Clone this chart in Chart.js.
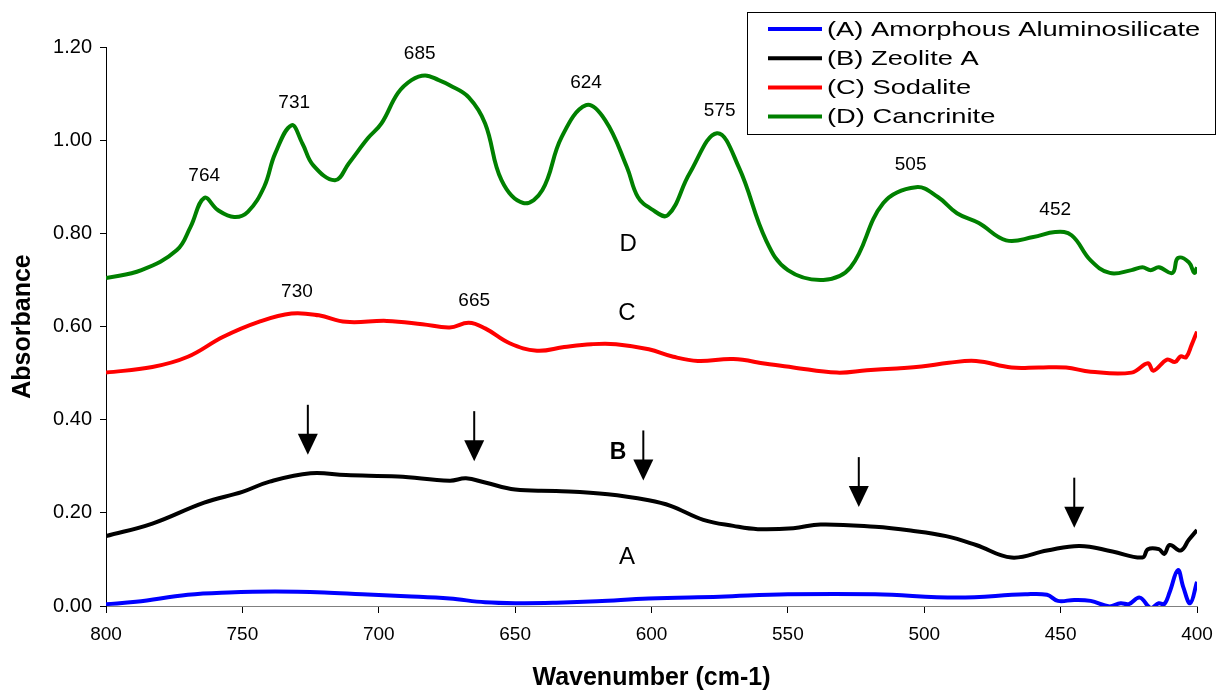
<!DOCTYPE html>
<html>
<head>
<meta charset="utf-8">
<title>FTIR spectra</title>
<script src="https://cdn.jsdelivr.net/npm/chart.js@4.4.1/dist/chart.umd.min.js"></script>
<style>
  body { margin: 0; background: #fff; }
  #wrap { width: 1217px; height: 692px; }
</style>
</head>
<body>
<div id="wrap"><canvas id="irChart" width="1217" height="692"></canvas></div>
<script>
// wavenumber (cm-1) / absorbance pairs for each sample
const waveA = [800, 789, 770, 755, 738, 720, 706, 690, 674, 661, 648, 635, 620, 601, 575, 550, 518, 488, 463, 455, 451, 445, 439, 432, 428, 425, 421, 417, 414, 412, 410, 407, 405, 402.5, 400];
const absA = [0.004, 0.009, 0.024, 0.029, 0.031, 0.029, 0.025, 0.021, 0.016, 0.008, 0.006, 0.007, 0.010, 0.016, 0.020, 0.025, 0.025, 0.018, 0.025, 0.024, 0.011, 0.013, 0.011, -0.001, 0.006, 0.004, 0.018, -0.004, 0.006, 0.004, 0.030, 0.077, 0.040, 0.006, 0.052];

const waveB = [800, 783, 764, 750, 740, 725, 712, 693, 674, 668, 661, 650, 635, 616, 601, 593, 581, 570, 561, 548, 538, 518, 505, 492, 481, 468, 455, 443, 431, 420, 418, 414, 412, 410, 406, 403, 400];
const absB = [0.150, 0.177, 0.222, 0.245, 0.267, 0.285, 0.281, 0.278, 0.269, 0.274, 0.265, 0.250, 0.247, 0.240, 0.227, 0.215, 0.185, 0.172, 0.165, 0.167, 0.175, 0.170, 0.162, 0.150, 0.131, 0.104, 0.119, 0.129, 0.117, 0.104, 0.122, 0.122, 0.112, 0.131, 0.119, 0.142, 0.163];

const waveC = [800, 783, 770, 757, 744, 732, 722, 712, 697, 684, 674, 667, 661, 652, 642, 632, 622, 613, 601, 592, 583, 570, 558, 548, 532, 521, 510, 501, 491, 481, 468, 458, 448, 439, 424, 418, 416, 411, 408, 406, 404, 402, 400];
const absC = [0.501, 0.513, 0.535, 0.578, 0.610, 0.628, 0.624, 0.610, 0.612, 0.605, 0.598, 0.608, 0.596, 0.564, 0.548, 0.556, 0.562, 0.562, 0.551, 0.535, 0.526, 0.530, 0.520, 0.512, 0.501, 0.506, 0.510, 0.514, 0.522, 0.526, 0.512, 0.512, 0.512, 0.503, 0.501, 0.521, 0.505, 0.529, 0.524, 0.536, 0.534, 0.560, 0.589];

const waveD = [800, 787, 774, 769, 764, 759, 753, 748, 742, 738, 732, 728, 724, 716, 711, 704, 699, 693, 688, 683, 678, 674, 667, 661, 655, 647, 640, 633, 624, 617, 609, 605, 600, 594, 586, 576, 568, 558, 550, 537, 527, 515, 503, 495, 488, 480, 470, 460, 452, 446, 439, 432, 424, 420, 417, 414, 409, 407, 403, 401, 400];
const absD = [0.704, 0.721, 0.764, 0.814, 0.876, 0.850, 0.835, 0.846, 0.900, 0.971, 1.032, 0.993, 0.946, 0.914, 0.950, 1.004, 1.036, 1.101, 1.129, 1.139, 1.129, 1.118, 1.092, 1.036, 0.914, 0.865, 0.893, 1.006, 1.075, 1.043, 0.942, 0.878, 0.852, 0.839, 0.929, 1.015, 0.942, 0.785, 0.721, 0.700, 0.727, 0.865, 0.899, 0.878, 0.843, 0.822, 0.785, 0.792, 0.803, 0.796, 0.742, 0.715, 0.721, 0.727, 0.721, 0.727, 0.715, 0.747, 0.738, 0.715, 0.727];

const seriesNames = ["(A) Amorphous Aluminosilicate", "(B) Zeolite A", "(C) Sodalite", "(D) Cancrinite"];
const seriesColors = ["#0000ff", "#000000", "#ff0000", "#008000"];

const xTicks = [800, 750, 700, 650, 600, 550, 500, 450, 400];
const yTicks = [0, 0.2, 0.4, 0.6, 0.8, 1.0, 1.2];

// band positions marked on the spectra
const peaksD = [764, 731, 685, 624, 575, 505, 452];
const peaksC = [730, 665];
const arrowsB = [726, 665, 603, 524, 445];

const FONT = "'Liberation Sans', Arial, sans-serif";

function toPoints(waves, vals) {
  let pts = [];
  for (let i = 0; i < waves.length; i++) {
    pts.push({ x: waves[i], y: vals[i] });
  }
  return pts;
}

function valueAt(waves, vals, w) {
  for (let i = 0; i < waves.length - 1; i++) {
    if (w <= waves[i] && w >= waves[i + 1]) {
      const t = (waves[i] - w) / (waves[i] - waves[i + 1]);
      return vals[i] + t * (vals[i + 1] - vals[i]);
    }
  }
  return vals[vals.length - 1];
}

function peakAt(waves, vals, w) {
  let best = -1;
  for (let d = -4; d <= 4; d += 0.5) {
    best = Math.max(best, valueAt(waves, vals, w + d));
  }
  return best;
}

const allWaves = [waveA, waveB, waveC, waveD];
const allAbs = [absA, absB, absC, absD];

const datasets = [];
for (let i = 0; i < 4; i++) {
  datasets.push({
    label: seriesNames[i],
    data: toPoints(allWaves[i], allAbs[i]),
    borderColor: seriesColors[i],
    backgroundColor: seriesColors[i],
    borderWidth: 4,
    pointRadius: 0,
    tension: 0.4,
    fill: false,
  });
}

// peak numbers, curve letters, arrows and the boxed legend
const annotatePlugin = {
  id: "annotate",
  afterDatasetsDraw(chart) {
    const ctx = chart.ctx;
    const xs = chart.scales.x;
    const ys = chart.scales.y;
    ctx.save();
    ctx.fillStyle = "#000";
    ctx.textAlign = "center";
    ctx.textBaseline = "middle";

    ctx.font = "19px " + FONT;
    peaksD.forEach((w) => {
      const py = ys.getPixelForValue(peakAt(waveD, absD, w));
      ctx.fillText(String(w), xs.getPixelForValue(w), py - 22);
    });
    peaksC.forEach((w) => {
      const py = ys.getPixelForValue(peakAt(waveC, absC, w));
      ctx.fillText(String(w), xs.getPixelForValue(w), py - 22);
    });

    // curve letters
    ctx.font = "24px " + FONT;
    ctx.fillText("D", xs.getPixelForValue(608.6), ys.getPixelForValue(0.777));
    ctx.fillText("C", xs.getPixelForValue(609), ys.getPixelForValue(0.629));
    ctx.fillText("A", xs.getPixelForValue(609), ys.getPixelForValue(0.105));
    ctx.font = "bold 23px " + FONT;
    ctx.fillText("B", xs.getPixelForValue(612.3), ys.getPixelForValue(0.330));

    // arrows pointing at the zeolite A bands
    ctx.strokeStyle = "#000";
    ctx.lineWidth = 2;
    arrowsB.forEach((w) => {
      const x = xs.getPixelForValue(w);
      const tip = ys.getPixelForValue(valueAt(waveB, absB, w)) - 19;
      ctx.beginPath();
      ctx.moveTo(x, tip - 50);
      ctx.lineTo(x, tip - 18);
      ctx.stroke();
      ctx.beginPath();
      ctx.moveTo(x - 10, tip - 21);
      ctx.lineTo(x + 10, tip - 21);
      ctx.lineTo(x, tip);
      ctx.closePath();
      ctx.fill();
    });
    ctx.restore();
  },
  afterDraw(chart) {
    const ctx = chart.ctx;
    ctx.save();
    ctx.fillStyle = "#fff";
    ctx.fillRect(747, 12, 470, 123);
    ctx.strokeStyle = "#000";
    ctx.lineWidth = 1;
    ctx.strokeRect(747.5, 12.5, 468, 122);
    ctx.textBaseline = "middle";
    ctx.textAlign = "left";
    ctx.font = "21px " + FONT;
    chart.data.datasets.forEach((ds, i) => {
      const y = 29 + i * 29.2;
      ctx.strokeStyle = ds.borderColor;
      ctx.lineWidth = 4;
      ctx.beginPath();
      ctx.moveTo(768, y);
      ctx.lineTo(822, y);
      ctx.stroke();
      ctx.save();
      ctx.translate(827, y + 1);
      ctx.scale(1.3, 1);
      ctx.fillStyle = "#000";
      ctx.fillText(ds.label, 0, 0);
      ctx.restore();
    });
    ctx.restore();
  },
};

const config = {
  type: "line",
  data: { datasets: datasets },
  options: {
    responsive: false,
    animation: false,
    devicePixelRatio: 1,
    layout: { padding: { left: 0, right: 20, top: 47, bottom: 0 } },
    plugins: {
      legend: { display: false },
      tooltip: { enabled: false },
    },
    scales: {
      x: {
        type: "linear",
        min: 400,
        max: 800,
        reverse: true,
        afterFit: (s) => {
          s.height = 86;
          s.paddingLeft = 0;
          s.paddingRight = 0;
        },
        afterBuildTicks: (s) => { s.ticks = xTicks.map((v) => ({ value: v })); },
        ticks: { color: "#000", font: { family: FONT, size: 19 }, maxRotation: 0, padding: 10 },
        grid: { drawOnChartArea: false, drawTicks: true, tickLength: 7, color: "#000" },
        border: { color: "#808080", width: 1 },
        title: {
          display: true,
          text: "Wavenumber (cm-1)",
          color: "#000",
          font: { family: FONT, size: 25, weight: "bold", lineHeight: 1.1 },
          padding: { top: 0, bottom: 0 },
        },
      },
      y: {
        min: 0,
        max: 1.2,
        afterFit: (s) => {
          s.width = 106;
          s.paddingTop = 0;
          s.paddingBottom = 0;
        },
        afterBuildTicks: (s) => { s.ticks = yTicks.map((v) => ({ value: v })); },
        ticks: {
          color: "#000",
          font: { family: FONT, size: 20 },
          padding: 8,
          callback: (v) => v.toFixed(2),
        },
        grid: { drawOnChartArea: false, drawTicks: true, tickLength: 6, color: "#000" },
        border: { color: "#000", width: 1 },
        title: {
          display: true,
          text: "Absorbance",
          color: "#000",
          font: { family: FONT, size: 25, weight: "bold" },
          padding: { top: 8, bottom: 0 },
        },
      },
    },
  },
  plugins: [annotatePlugin],
};

const irChart = new Chart(document.getElementById("irChart"), config);
</script>
</body>
</html>
